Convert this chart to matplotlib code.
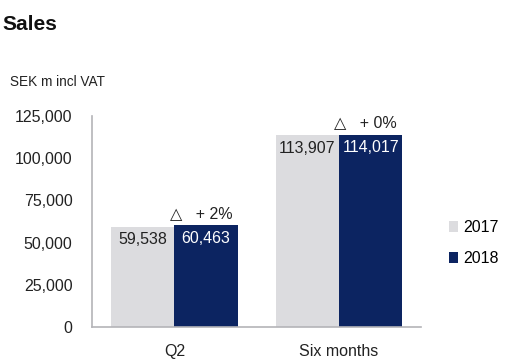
import matplotlib.pyplot as plt
import numpy as np

plt.rcParams['font.family'] = ['Liberation Sans', 'DejaVu Sans']

categories = ['Q2', 'Six months']
sales_2017 = [59538, 113907]
sales_2018 = [60463, 114017]
changes = ['+ 2%', '+ 0%']
years = ['2017', '2018']

c2017 = '#dcdcdf'
c2018 = '#0c2461'

fig = plt.figure(figsize=(5.2, 3.64), dpi=100)
ax = fig.add_axes([0.177, 0.1016, 0.633, 0.5797])

x = np.arange(len(categories))
w = 0.385
b1 = ax.bar(x - w / 2, sales_2017, w, color=c2017, label=years[0])
b2 = ax.bar(x + w / 2, sales_2018, w, color=c2018, label=years[1])

# value labels inside the bars
for i in range(len(categories)):
    ax.text(x[i] - w / 2, sales_2017[i] - 3500, f"{sales_2017[i]:,}",
            ha='center', va='top', fontsize=11.5, color='#222222')
    ax.text(x[i] + w / 2, sales_2018[i] - 3500, f"{sales_2018[i]:,}",
            ha='center', va='top', fontsize=11.5, color='white')
    ax.text(x[i] + w / 2 - 0.03, sales_2018[i] + 2500, "\u25b3   " + changes[i],
            ha='center', va='bottom', fontsize=11.5, color='#222222')

ax.set_xlim(-0.5, 1.5)
ax.set_ylim(0, 125000)
ax.set_yticks(np.arange(0, 125001, 25000))
ax.set_yticklabels([f"{v:,}" for v in range(0, 125001, 25000)])
ax.set_xticks(x)
ax.set_xticklabels(categories)
ax.tick_params(axis='both', length=0, labelsize=11.5, colors='#222222')
ax.tick_params(axis='y', pad=14)
ax.tick_params(axis='x', pad=12)
for s in ['top', 'right']:
    ax.spines[s].set_visible(False)
for s in ['left', 'bottom']:
    ax.spines[s].set_color('#b4b4b8')
    ax.spines[s].set_linewidth(1.2)

ax.legend(loc='upper left', bbox_to_anchor=(1.04, 0.575), frameon=False,
          fontsize=11.5, handlelength=0.6, handleheight=0.7,
          handletextpad=0.3, labelspacing=1.0)

fig.text(0.004, 0.918, 'Sales', fontsize=15, fontweight='bold', color='#111111')
fig.text(0.02, 0.765, 'SEK m incl VAT', fontsize=9.8, color='#222222')

fig.savefig('out.png', dpi=100)
